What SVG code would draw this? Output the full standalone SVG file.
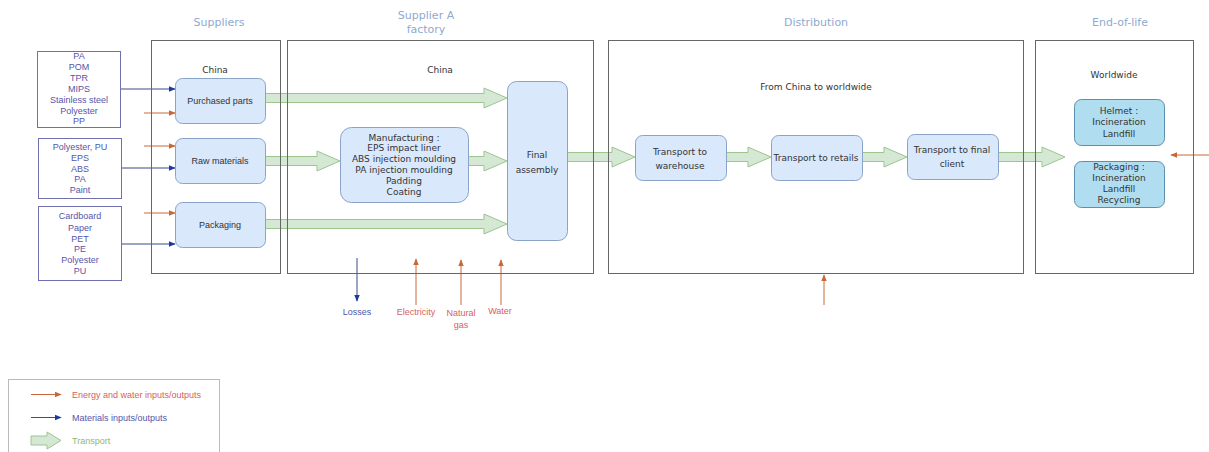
<svg xmlns="http://www.w3.org/2000/svg" width="1209" height="452" viewBox="0 0 1209 452">
<style>
.title{font-family:"DejaVu Sans",sans-serif;font-size:11px;fill:#8fa9d0;text-anchor:middle}
.stage{fill:none;stroke:#666;stroke-width:1}
.proc{fill:#dae8fc;stroke:#8aa4c8;stroke-width:1}
.eol{fill:#b1ddf0;stroke:#5d8fb0;stroke-width:1}
.mat{fill:#fff;stroke:#7070b0;stroke-width:1}
.v{font-family:"DejaVu Sans",sans-serif;font-size:9px;fill:#333;text-anchor:middle}
.a{font-family:"Liberation Sans",Arial,sans-serif;font-size:9px;fill:#333;text-anchor:middle}
.mt{font-family:"Liberation Sans",Arial,sans-serif;font-size:9px;fill:#5555aa;text-anchor:middle}
.red{font-family:"Liberation Sans",Arial,sans-serif;font-size:9px;fill:#d9605a;text-anchor:middle}
.blk{fill:#d5e8d4;stroke:#9cc590;stroke-width:1}
.or{stroke:#c8683a;stroke-width:1;fill:none;marker-end:url(#mo)}
.bl{stroke:#3b4a8a;stroke-width:1;fill:none;marker-end:url(#mb)}
</style>
<defs>
<marker id="mo" viewBox="0 0 10 10" refX="9" refY="5" markerWidth="7" markerHeight="7" orient="auto" markerUnits="userSpaceOnUse"><path d="M0,1 L10,5 L0,9 z" fill="#c8683a"/></marker>
<marker id="mb" viewBox="0 0 10 10" refX="9" refY="5" markerWidth="7" markerHeight="7" orient="auto" markerUnits="userSpaceOnUse"><path d="M0,1 L10,5 L0,9 z" fill="#1a3aa0"/></marker>
</defs>
<rect width="1209" height="452" fill="#fff"/>

<g id="titles">
<text class="title" x="219" y="26">Suppliers</text>
<text class="title" x="426" y="19">Supplier A</text>
<text class="title" x="426" y="33">factory</text>
<text class="title" x="816" y="26">Distribution</text>
<text class="title" x="1120" y="26">End-of-life</text>
</g>

<g id="connectors">
<polygon class="blk" points="265,93.5 484,93.5 484,88 507,98 484,108 484,102.5 265,102.5"/>
<polygon class="blk" points="265,156.5 317,156.5 317,151 340,161 317,171 317,165.5 265,165.5"/>
<polygon class="blk" points="468,156.5 484,156.5 484,151 507,161 484,171 484,165.5 468,165.5"/>
<polygon class="blk" points="265,219.5 484,219.5 484,214 507,224 484,234 484,228.5 265,228.5"/>
<polygon class="blk" points="567,152.5 612,152.5 612,147 635,157 612,167 612,161.5 567,161.5"/>
<polygon class="blk" points="726,152.5 748,152.5 748,147 771,157 748,167 748,161.5 726,161.5"/>
<polygon class="blk" points="862,152.5 884,152.5 884,147 907,157 884,167 884,161.5 862,161.5"/>
<polygon class="blk" points="998,152.5 1042,152.5 1042,147 1065,157 1042,167 1042,161.5 998,161.5"/>
<line class="bl" x1="121" y1="89" x2="175" y2="89"/>
<line class="or" x1="144" y1="113" x2="175" y2="113"/>
<line class="or" x1="144" y1="146" x2="175" y2="146"/>
<line class="bl" x1="121" y1="168" x2="175" y2="168"/>
<line class="or" x1="144" y1="213" x2="175" y2="213"/>
<line class="bl" x1="122" y1="244" x2="175" y2="244"/>
<line class="bl" x1="357" y1="258" x2="357" y2="301"/>
<line class="or" x1="416" y1="305" x2="416" y2="259"/>
<line class="or" x1="461" y1="305" x2="461" y2="260"/>
<line class="or" x1="501" y1="305" x2="501" y2="260"/>
<line class="or" x1="824" y1="305" x2="824" y2="275"/>
<line class="or" x1="1209" y1="155" x2="1171" y2="155"/>
</g>

<g id="stage-suppliers"><rect class="stage" x="151.5" y="40.5" width="129" height="233"/>
<text class="v" x="215" y="73">China</text></g>
<g id="stage-factory"><rect class="stage" x="287.5" y="40.5" width="306" height="233"/>
<text class="v" x="440" y="73">China</text></g>
<g id="stage-distribution"><rect class="stage" x="608.5" y="40.5" width="415" height="233"/>
<text class="v" x="816" y="90">From China to worldwide</text></g>
<g id="stage-eol"><rect class="stage" x="1035.5" y="40.5" width="158" height="233"/>
<text class="v" x="1114" y="78">Worldwide</text></g>

<g id="mat-parts"><rect class="mat" x="37.5" y="51.5" width="83" height="76"/>
<text class="mt" x="79" y="59">PA</text><text class="mt" x="79" y="70">POM</text><text class="mt" x="79" y="81">TPR</text><text class="mt" x="79" y="91.5">MIPS</text><text class="mt" x="79" y="102.5">Stainless steel</text><text class="mt" x="79" y="113.5">Polyester</text><text class="mt" x="79" y="124">PP</text></g>
<g id="mat-raw"><rect class="mat" x="38.5" y="138.5" width="83" height="60"/>
<text class="mt" x="80" y="150">Polyester, PU</text><text class="mt" x="80" y="161">EPS</text><text class="mt" x="80" y="171.5">ABS</text><text class="mt" x="80" y="182">PA</text><text class="mt" x="80" y="192.5">Paint</text></g>
<g id="mat-pack"><rect class="mat" x="38.5" y="206.5" width="83" height="74"/>
<text class="mt" x="80" y="219">Cardboard</text><text class="mt" x="80" y="231">Paper</text><text class="mt" x="80" y="241.5">PET</text><text class="mt" x="80" y="252">PE</text><text class="mt" x="80" y="262.5">Polyester</text><text class="mt" x="80" y="273.5">PU</text></g>

<g id="purchased-parts"><rect class="proc" x="175.5" y="78.5" width="90" height="45" rx="7"/><text class="a" x="220" y="104">Purchased parts</text></g>
<g id="raw-materials"><rect class="proc" x="175.5" y="138.5" width="90" height="45" rx="7"/><text class="a" x="220" y="164">Raw materials</text></g>
<g id="packaging"><rect class="proc" x="175.5" y="202.5" width="90" height="45" rx="7"/><text class="a" x="220" y="228">Packaging</text></g>

<g id="manufacturing"><rect class="proc" x="340.5" y="127.5" width="128" height="75" rx="11"/>
<text class="v" x="404" y="140.5">Manufacturing :</text><text class="v" x="404" y="151">EPS impact liner</text><text class="v" x="404" y="161.5">ABS injection moulding</text><text class="v" x="404" y="172.5">PA injection moulding</text><text class="v" x="404" y="184">Padding</text><text class="v" x="404" y="194.5">Coating</text></g>
<g id="final-assembly"><rect class="proc" x="507.5" y="81.5" width="60" height="159" rx="9"/>
<text class="v" x="537" y="158">Final</text><text class="v" x="537" y="172.5">assembly</text></g>

<g id="to-warehouse"><rect class="proc" x="635.5" y="135.5" width="91" height="45" rx="7"/><text class="v" x="680" y="155">Transport to</text><text class="v" x="680" y="169">warehouse</text></g>
<g id="to-retails"><rect class="proc" x="771.5" y="135.5" width="91" height="45" rx="7"/><text class="v" x="816" y="161">Transport to retails</text></g>
<g id="to-client"><rect class="proc" x="907.5" y="134.5" width="91" height="45" rx="7"/><text class="v" x="952" y="153">Transport to final</text><text class="v" x="952" y="167">client</text></g>

<g id="eol-helmet"><rect class="eol" x="1074.5" y="99.5" width="90" height="46" rx="7"/>
<text class="v" x="1119" y="113.5">Helmet :</text><text class="v" x="1119" y="125">Incineration</text><text class="v" x="1119" y="136.5">Landfill</text></g>
<g id="eol-packaging"><rect class="eol" x="1074.5" y="161.5" width="90" height="46" rx="7"/>
<text class="v" x="1119" y="170">Packaging :</text><text class="v" x="1119" y="181">Incineration</text><text class="v" x="1119" y="192">Landfill</text><text class="v" x="1119" y="203">Recycling</text></g>

<g id="flow-labels">
<text class="mt" x="357" y="315">Losses</text>
<text class="red" x="416" y="315">Electricity</text>
<text class="red" x="461" y="316">Natural</text>
<text class="red" x="461" y="328">gas</text>
<text class="red" x="500" y="314">Water</text>
</g>

<g id="legend">
<rect x="8.5" y="379.5" width="211" height="80" fill="#fff" stroke="#bbb"/>
<line class="or" x1="31" y1="394.5" x2="61" y2="394.5"/>
<text x="72" y="397.5" style="font-family:'Liberation Sans',Arial,sans-serif;font-size:9px;fill:#d9605a">Energy and water inputs/outputs</text>
<line class="bl" x1="31" y1="417.5" x2="61" y2="417.5"/>
<text x="72" y="420.5" style="font-family:'Liberation Sans',Arial,sans-serif;font-size:9px;fill:#5555aa">Materials inputs/outputs</text>
<polygon class="blk" points="31,436 47,436 47,432 61,440.5 47,449 47,445 31,445"/>
<text x="72" y="443.5" style="font-family:'Liberation Sans',Arial,sans-serif;font-size:9px;fill:#8ab87a">Transport</text>
</g>
</svg>
